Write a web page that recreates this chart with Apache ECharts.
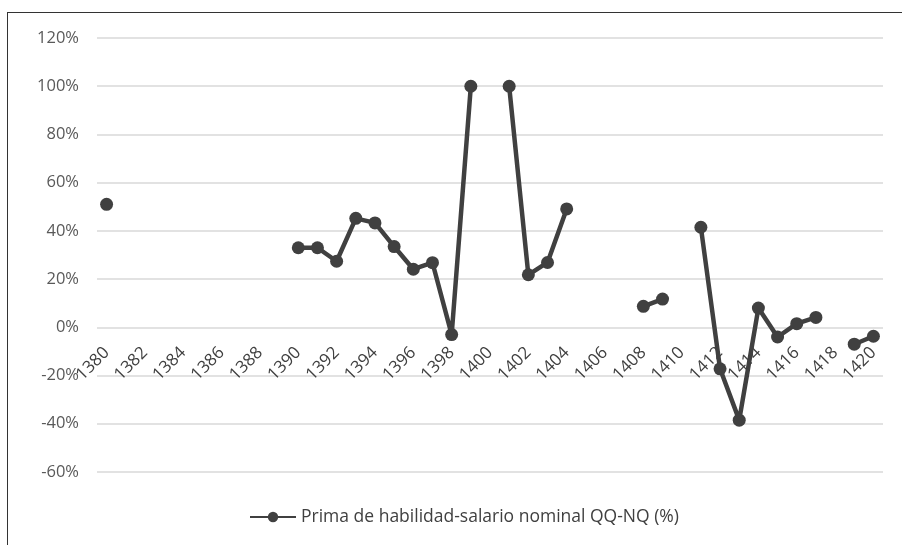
<!DOCTYPE html>
<html>
<head>
<meta charset="utf-8">
<script src="https://cdn.jsdelivr.net/npm/echarts@6/dist/echarts.min.js"></script>
<style>
html,body{margin:0;padding:0;background:#fff;}
#frame{position:absolute;left:7px;top:12px;width:895px;height:533px;border-left:1px solid #333;border-top:1px solid #333;}
#chart{position:absolute;left:0;top:0;width:902px;height:545px;}
</style>
</head>
<body>
<div id="frame"></div>
<div id="chart"></div>
<script>
var years = [];
for (var y = 1380; y <= 1420; y++) years.push(String(y));
var seriesName = 'Prima de habilidad-salario nominal QQ-NQ (%)';
var values = [
  51, null, null, null, null, null, null, null, null, null,
  33, 33, 27.4, 45.2, 43.3, 33.5, 24.1, 26.8, -3, 100,
  null, 100, 21.8, 26.9, 49.1, null, null, null, 8.7, 11.7,
  null, 41.5, -17.2, -38.5, 8, -4, 1.5, 4.1, null, -7,
  -3.7
];
var yTicks = { min: -60, max: 120, interval: 20 };

var chart = echarts.init(document.getElementById('chart'));
chart.setOption({
  animation: false,
  backgroundColor: 'transparent',
  grid: { left: 97, right: 19, top: 38, bottom: 73 },
  legend: {
    data: [seriesName],
    bottom: 14,
    left: 244,
    itemWidth: 46,
    itemHeight: 13,
    itemGap: 3,
    textStyle: { color: '#404040', fontSize: 17.5, fontFamily: 'Open Sans' }
  },
  xAxis: {
    type: 'category',
    data: years,
    boundaryGap: true,
    axisLine: { show: false, onZero: false },
    axisTick: { show: false },
    axisLabel: {
      interval: 1,
      rotate: 45,
      margin: -122,
      color: '#404040',
      fontSize: 17,
      fontFamily: 'Open Sans'
    },
    splitLine: { show: false }
  },
  yAxis: {
    type: 'value',
    min: yTicks.min,
    max: yTicks.max,
    interval: yTicks.interval,
    axisLine: { show: false },
    axisTick: { show: false },
    axisLabel: {
      formatter: '{value}%',
      margin: 18,
      color: '#595959',
      fontSize: 16.5,
      fontFamily: 'Open Sans'
    },
    splitLine: { lineStyle: { color: '#d9d9d9', width: 1.5 } }
  },
  series: [{
    name: seriesName,
    type: 'line',
    data: values,
    connectNulls: false,
    showAllSymbol: true,
    symbol: 'circle',
    symbolSize: 13,
    lineStyle: { color: '#404040', width: 4.5 },
    itemStyle: { color: '#404040' }
  }]
});
</script>
</body>
</html>
